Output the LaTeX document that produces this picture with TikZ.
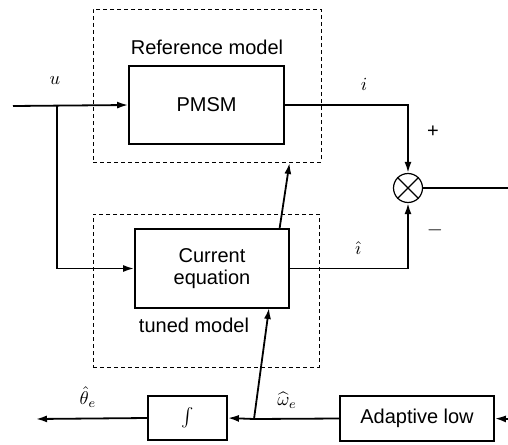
\documentclass[tikz,border=0pt]{standalone}
\usepackage{fontspec}
\setmainfont{Liberation Sans}
\usetikzlibrary{arrows.meta}
\newcommand{\mybigmath}[1]{\scalebox{1.85}{$#1$}}
\begin{document}
\begin{tikzpicture}[x=1pt,y=-1pt,
  blockbox/.style={draw, line width=1.8pt, inner sep=0pt, font=\fontsize{20}{24}\selectfont, align=center},
  dashbox/.style={draw, line width=0.9pt, dash pattern=on 4pt off 3pt, inner sep=0pt},
  conn/.style={line width=1.8pt},
  arr/.style={conn, -{Latex[length=11pt,width=7pt]}},
  lbl/.style={font=\fontsize{20}{24}\selectfont, inner sep=0pt},
  mlbl/.style={inner sep=0pt}]
\useasboundingbox (0,0) rectangle (508,444);
% dashed model frames
\node[dashbox, minimum width=228pt, minimum height=153pt] (ref) at (207,85.5) {};
\node[dashbox, minimum width=226pt, minimum height=153pt] (tun) at (206,290.5) {};
% blocks
\node[blockbox, minimum width=155pt, minimum height=78pt] (pmsm) at (206.5,105) {PMSM};
\node[blockbox, minimum width=154pt, minimum height=79pt] (cur) at (212,268.5) {Current\\[-2pt]equation};
\node[draw, circle, line width=1.2pt, minimum size=29pt, inner sep=0pt] (sum) at (408,188) {};
\draw[line width=1.2pt] (sum.north west) -- (sum.south east) (sum.north east) -- (sum.south west);
\node[blockbox, minimum width=154pt, minimum height=45pt] (adapt) at (417,418.5) {Adaptive low};
\node[blockbox, minimum width=79pt, minimum height=44pt] (integ) at (187.5,418) {\mybigmath{\int}};
% texts
\node[lbl] (reftxt) at (207,47) {Reference model};
\node[lbl] (tuntxt) at (194,325) {tuned model};
\node[mlbl] (ulbl) at (55,81) {\mybigmath{u}};
\node[mlbl] (ilbl) at (364,84) {\mybigmath{i}};
\node[mlbl] (ihlbl) at (358,248) {\mybigmath{\hat{\imath}}};
\node[lbl] (plus) at (433,132) {+};
\node[lbl] (minus) at (435,230) {$-$};
\node[mlbl] (wlbl) at (287,400) {\mybigmath{\widehat{\omega}_e}};
\node[mlbl] (thlbl) at (88,397) {\mybigmath{\hat{\theta}_e}};
% coordinates
\coordinate (uin) at (13,106);
\coordinate (ubr) at (57,106);
\coordinate (ubr2) at (57,268.5);
\coordinate (ic) at (408,105);
\coordinate (ihc) at (408,268.5);
\coordinate (out) at (508,188);
\coordinate (ain) at (508,419);
\coordinate (jn) at (254,419);
\coordinate (jtop) at (269,308);
\coordinate (s1) at (279.5,229);
\coordinate (s2) at (289.5,163);
\coordinate (thout) at (36,419);
% connectors
\draw[arr] (uin) -- (pmsm.west);
\draw[arr] (ubr) -- (ubr2) -- (cur.west);
\draw[arr] (pmsm.east) -- (ic) -- (sum.north);
\draw[arr] (cur.east) -- (ihc) -- (sum.south);
\draw[conn] (sum.east) -- (out);
\draw[arr] (ain) -- (adapt.east);
\draw[conn] (adapt.west) -- (jn);
\draw[arr] (jn) -- (integ.east);
\draw[arr] (integ.west) -- (thout);
\draw[arr] (jn) -- (jtop);
\draw[arr] (s1) -- (s2);
\end{tikzpicture}
\end{document}
